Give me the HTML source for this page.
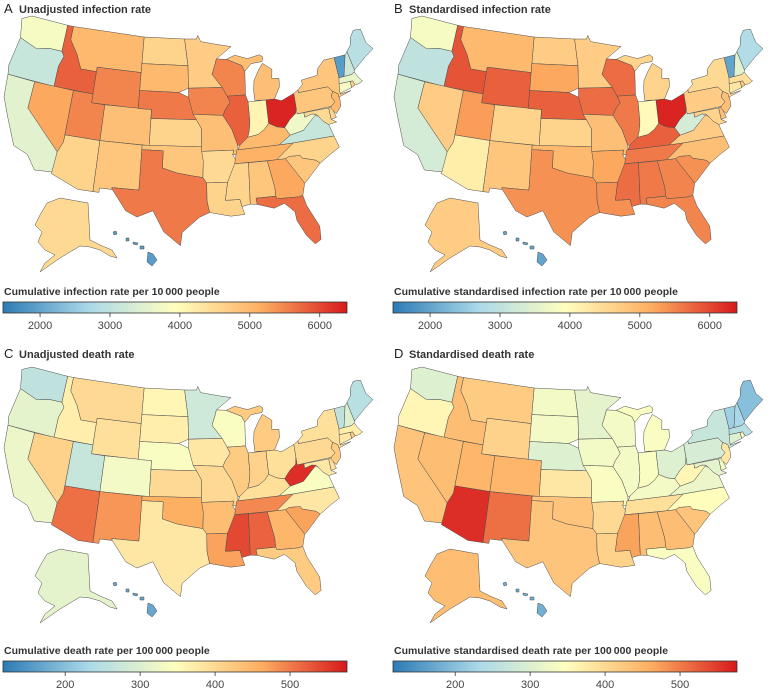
<!DOCTYPE html>
<html><head><meta charset="utf-8">
<style>
html,body{margin:0;padding:0;background:#fff;}
svg{display:block;font-family:"Liberation Sans",sans-serif;}
</style></head>
<body>
<svg id="fig" width="768" height="688" viewBox="0 0 768 688"></svg>
<script>
// ---- data (values per state, estimated from colours) ----
const states = ['WA','OR','CA','ID','NV','MT','WY','UT','AZ','CO','NM','ND','SD','NE','KS','OK','TX','MN','IA','MO','AR','LA','WI','IL','MI','IN','OH','KY','TN','MS','AL','GA','FL','SC','NC','VA','WV','MD','DE','PA','NJ','NY','CT','RI','MA','VT','NH','ME','AK','HI'];
const infectionA = [3800,3100,3500,5800,5200,5000,5500,5500,4600,4900,4800,4600,5000,5600,4600,4800,5600,4700,5500,4900,4500,4600,5500,5800,4900,4100,6300,5000,5100,4600,4800,5200,5700,4800,4600,3100,3700,4500,4600,4800,5000,4800,3800,4600,3600,1900,3200,2900,4500,1900];
const infectionB = [3800,3000,3300,5900,4700,5000,5800,5300,4200,4600,4800,4700,5200,5800,4600,5000,5400,4700,5700,4900,5200,5400,5700,5600,4600,4000,6300,5800,5600,5700,5600,5500,5500,5400,4900,4700,3300,4600,4900,4700,4900,4500,4300,4800,4400,2000,3500,2800,4700,2000];
const deathC = [260,310,320,370,410,400,390,270,510,330,480,360,370,340,400,460,380,280,380,400,440,470,340,420,420,410,390,390,490,540,520,450,420,470,380,340,560,380,390,400,420,390,380,420,370,260,300,250,310,170];
const deathD = [300,360,430,440,440,420,410,450,560,450,510,330,330,300,380,430,430,310,330,340,400,410,330,330,340,340,300,330,390,470,440,440,340,430,350,320,360,310,330,290,380,270,300,330,250,220,230,200,440,180];
const infTicks = [2000,3000,4000,5000,6000];
const deathTicks = [200,300,400,500];
const infDomain = [1470,6390];
const deathDomain = [117,576];

// ---- geometry (lon,lat) ----
const GEO = {
WA:[[[-124.7,48.4],[-123.2,49],[-117,49],[-117,46],[-119,46],[-121,45.6],[-124,46.3]]],
OR:[[[-124,46.3],[-121,45.6],[-119,46],[-117,46],[-116.5,45.5],[-117,44.3],[-117,42],[-124.2,42],[-124.5,43]]],
CA:[[[-124.2,42],[-120,42],[-120,39],[-114.6,35],[-114.6,33],[-114.7,32.7],[-117.1,32.5],[-118.5,34],[-120.6,34.6],[-122.5,37.5],[-123.8,39.5]]],
ID:[[[-117,49],[-116,49],[-116,47.5],[-114.5,46],[-113.5,44.5],[-111,44.5],[-111,42],[-117,42],[-117,44.3],[-116.5,45.5],[-117,46]]],
NV:[[[-120,42],[-114,42],[-114,36.2],[-114.6,35],[-120,39]]],
MT:[[[-116,49],[-104,49],[-104,45],[-111,45],[-111,44.5],[-113.5,44.5],[-114.5,46],[-116,47.5]]],
WY:[[[-111,45],[-104,45],[-104,41],[-111,41]]],
UT:[[[-114,42],[-111,42],[-111,41],[-109,41],[-109,37],[-114,37]]],
AZ:[[[-114,37],[-109,37],[-109,31.3],[-111,31.3],[-114.8,32.5],[-114.6,35],[-114,36.2]]],
CO:[[[-109,41],[-102,41],[-102,37],[-109,37]]],
NM:[[[-109,37],[-103,37],[-103,32],[-106.6,32],[-106.5,31.8],[-108.2,31.8],[-108.2,31.3],[-109,31.3]]],
ND:[[[-104,49],[-97.2,49],[-96.6,46],[-104,46]]],
SD:[[[-104,46],[-96.6,46],[-96.5,43.5],[-98,43],[-104,43]]],
NE:[[[-104,43],[-98,43],[-96.5,42.5],[-95.3,40],[-102,40],[-102,41],[-104,41]]],
KS:[[[-102,40],[-95.3,40],[-94.6,39],[-94.6,37],[-102,37]]],
OK:[[[-103,37],[-94.6,37],[-94.4,35.4],[-94.5,33.6],[-96,33.8],[-98,34.1],[-100,34.6],[-100,36.5],[-103,36.5]]],
TX:[[[-106.6,32],[-103,32],[-103,36.5],[-100,36.5],[-100,34.6],[-98,34.1],[-96,33.8],[-94.5,33.6],[-94,33],[-94,31],[-93.7,29.7],[-95,29.2],[-97.2,27.5],[-97.4,26],[-99.5,27.5],[-101,29.8],[-103,29],[-104.5,29.6],[-106.5,31.8]]],
MN:[[[-97.2,49],[-95.2,49],[-95,49.4],[-94.5,48.7],[-91,48.2],[-89.5,48],[-92,46.7],[-92.3,46],[-92.8,45],[-91.3,43.5],[-96.5,43.5],[-96.6,46]]],
IA:[[[-96.5,43.5],[-91.3,43.5],[-90.6,42.5],[-90.2,41.8],[-91,41],[-91.4,40.4],[-95.8,40.6],[-96.5,42.5]]],
MO:[[[-95.8,40.6],[-91.4,40.4],[-90.2,38.8],[-89.5,37],[-89.5,36],[-90.3,36],[-90.1,36.5],[-94.6,36.5],[-94.6,39],[-95.3,40]]],
AR:[[[-94.6,36.5],[-90.1,36.5],[-90.3,36],[-89.7,35],[-91.2,33],[-94,33],[-94.5,33.6],[-94.4,35.4]]],
LA:[[[-94,33],[-91.2,33],[-91.6,31],[-89.7,31],[-89.5,30.2],[-89.2,29.3],[-91,29.2],[-93.7,29.7],[-94,31]]],
WI:[[[-92.8,45],[-92.3,46],[-92,46.7],[-90.4,46.6],[-88,45.8],[-87.6,45.1],[-87.8,42.5],[-90.6,42.5],[-91.3,43.5]]],
IL:[[[-90.6,42.5],[-87.8,42.5],[-87.5,41.7],[-87.5,39.5],[-87.7,38.5],[-88,37.8],[-89.2,37],[-89.5,37],[-90.2,38.8],[-91.4,40.4],[-91,41],[-90.2,41.8]]],
MI:[[[-86.5,41.8],[-84.8,41.7],[-83.5,41.7],[-82.5,43],[-82.4,43.9],[-83.5,44],[-83.3,45],[-84.7,45.8],[-85.5,45],[-86.3,44],[-86.5,43]],[[-90.4,46.6],[-88,45.8],[-87.6,45.1],[-86.5,45.9],[-84.7,46],[-84.5,46.5],[-85,46.8],[-87,46.5],[-89,47]]],
IN:[[[-87.5,41.7],[-84.8,41.7],[-84.8,39.1],[-85.5,38.5],[-86.5,38],[-88,37.8],[-87.7,38.5],[-87.5,39.5]]],
OH:[[[-84.8,41.7],[-83.5,41.7],[-82.5,41.4],[-80.5,42],[-80.5,40.6],[-80.7,39.8],[-81.7,39.2],[-82.6,38.4],[-83.7,38.6],[-84.8,39.1]]],
KY:[[[-89.5,36.5],[-89.2,37],[-88,37.8],[-86.5,38],[-85.5,38.5],[-84.8,39.1],[-83.7,38.6],[-82.6,38.4],[-81.96,37.5],[-83.7,36.6]]],
TN:[[[-90.1,35],[-89.7,36.5],[-83.7,36.6],[-81.7,36.6],[-84.3,35]]],
MS:[[[-91.2,33],[-90.1,35],[-88.2,35],[-88.4,30.4],[-89.5,30.2],[-89.7,31],[-91.6,31]]],
AL:[[[-88.2,35],[-85.6,35],[-85,32],[-85,31],[-87.6,31],[-87.5,30.3],[-88.4,30.4]]],
GA:[[[-85.6,35],[-83.1,35],[-81,32],[-81.5,30.7],[-82,30.6],[-84.9,30.7],[-85,31],[-85,32]]],
FL:[[[-87.6,31],[-85,31],[-84.9,30.7],[-82,30.6],[-81.5,30.7],[-81.2,29.5],[-80,27],[-80.1,25.5],[-80.9,25.1],[-81.8,26.2],[-82.7,28],[-82.8,29],[-84,30.1],[-85.4,29.7],[-87.5,30.3]]],
SC:[[[-83.1,35],[-82.5,35.2],[-81,35.1],[-80.8,34.8],[-79,34.3],[-78.5,33.9],[-80.7,32.2],[-81,32]]],
NC:[[[-84.3,35],[-81.7,36.6],[-75.9,36.55],[-75.5,35.2],[-76.8,34.7],[-78.5,33.9],[-79,34.3],[-80.8,34.8],[-81,35.1],[-82.5,35.2],[-83.1,35]]],
VA:[[[-83.7,36.6],[-81.7,36.6],[-75.9,36.55],[-76.3,37.9],[-77,38.4],[-77.5,39],[-78.4,39.4],[-79,38.5],[-80,37.8],[-81.96,37.5]]],
WV:[[[-82.6,38.4],[-81.7,39.2],[-80.7,39.8],[-80.5,40.6],[-80.5,39.7],[-79.5,39.7],[-79.5,39.2],[-78.4,39.4],[-77.8,39.3],[-79,38.5],[-80,37.8],[-81.96,37.5]]],
MD:[[[-79.5,39.7],[-75.8,39.7],[-75.8,38.4],[-75.1,38],[-76.3,37.9],[-77,38.4],[-77.5,39],[-77.8,39.3],[-78.4,39.4],[-79.5,39.2]]],
DE:[[[-75.8,39.7],[-75.4,39.8],[-75,38.5],[-75.8,38.4]]],
PA:[[[-80.5,42],[-79.8,42.3],[-79.8,42],[-75.3,42],[-74.7,41.4],[-75.1,40.8],[-74.7,40.2],[-75.4,39.8],[-80.5,39.7]]],
NJ:[[[-75.1,40.8],[-74.7,41.4],[-74,41],[-73.9,40.5],[-74,39.6],[-74.9,38.9],[-75.5,39.6],[-75.4,39.8],[-74.7,40.2]]],
NY:[[[-79.8,42],[-79.8,42.3],[-79,42.8],[-79,43.3],[-76.5,43.5],[-76.2,44.2],[-75,45],[-73.3,45],[-73.3,42.7],[-73.5,41.2],[-73.7,40.9],[-72,41],[-74,40.6],[-74,41],[-74.7,41.4],[-75.3,42]]],
CT:[[[-73.5,42.05],[-71.8,42],[-71.8,41.3],[-73.7,41]]],
RI:[[[-71.8,42],[-71.4,42],[-71.2,41.5],[-71.8,41.3]]],
MA:[[[-73.3,42.7],[-71.3,42.7],[-70.8,42.9],[-70.6,42.5],[-70.1,41.8],[-69.95,41.7],[-70.6,41.5],[-71.2,41.5],[-71.4,42],[-73.5,42.05]]],
VT:[[[-73.3,45],[-71.5,45],[-72.5,42.7],[-73.3,42.7]]],
NH:[[[-71.5,45],[-71.1,45.3],[-70.7,43.1],[-70.8,42.9],[-71.3,42.7],[-72.5,42.7]]],
ME:[[[-71.1,45.3],[-70.3,45.9],[-70,46.7],[-69.2,47.4],[-68,47.3],[-67.8,45.7],[-67,44.8],[-68.5,44.2],[-70.7,43.1]]]
};
// inset shapes in panel pixel coordinates
const INSET = {
AK:[[[47,203],[60,198],[88,203],[90,240],[100,245],[112,250],[117,258],[110,256],[100,250],[90,247],[80,246],[70,252],[60,258],[50,265],[40,272],[45,263],[55,255],[45,250],[38,242],[42,232],[35,225],[40,215]]],
HI:[[[113,232],[116,231],[117,234],[114,235]],[[126,238],[129,238],[129,241],[126,241]],[[133,242],[138,243],[137,245],[133,244]],[[140,246],[144,246],[144,249],[140,249]],[[148,252],[153,254],[157,260],[152,266],[147,262]]]
};

// ---- projection ----
const R = Math.PI/180;
const p1=29.5*R,p2=45.5*R,p0=37.5*R,l0=-96*R;
const nA=(Math.sin(p1)+Math.sin(p2))/2, CA=Math.cos(p1)**2+2*nA*Math.sin(p1);
const rho0=Math.sqrt(CA-2*nA*Math.sin(p0))/nA;
function alb(lon,lat){const rho=Math.sqrt(CA-2*nA*Math.sin(lat*R))/nA;const th=nA*(lon*R-l0);return [rho*Math.sin(th),-(rho0-rho*Math.cos(th))];}
let minX=1e9,maxX=-1e9,minY=1e9,maxY=-1e9;
for(const k in GEO){for(const ring of GEO[k]){for(const pt of ring){const q=alb(pt[0],pt[1]);minX=Math.min(minX,q[0]);maxX=Math.max(maxX,q[0]);minY=Math.min(minY,q[1]);maxY=Math.max(maxY,q[1]);}}}
function proj(pt,box){const q=alb(pt[0],pt[1]);const s=(box.x1-box.x0)/(maxX-minX);return [box.x0+(q[0]-minX)*s, box.y0+(q[1]-minY)*s];}

// ---- colour ----
const stops=[[44,123,182],[171,217,233],[255,255,191],[253,174,97],[215,25,28]];
function colour(v,dom){let t=(v-dom[0])/(dom[1]-dom[0]);t=Math.max(0,Math.min(1,t));const s=t*4,i=Math.min(3,Math.floor(s)),f=s-i;const a=stops[i],b=stops[i+1];return 'rgb('+a.map((c,j)=>Math.round(c+(b[j]-c)*f)).join(',')+')';}

const NS='http://www.w3.org/2000/svg';
const svg=document.getElementById('fig');
function mk(tag,attrs,parent){const e=document.createElementNS(NS,tag);for(const k in attrs)e.setAttribute(k,attrs[k]);(parent||svg).appendChild(e);return e;}

function panel(ox,oy,mapDy,cbDy,letter,title,values,dom,ticks,cbLabel,key){
  const g=mk('g',{transform:'translate('+ox+','+oy+')'});
  
  
  const tl=mk('text',{x:4,y:13,'font-size':13,fill:'#222'},g);tl.textContent=letter;
  
  
  const tt=mk('text',{x:19,y:13,'font-size':11,'font-weight':'bold',fill:'#333'},g);tt.textContent=title;
  
  
  const box={x0:4,x1:373,y0:16+mapDy,y1:248+mapDy};
  states.forEach((s,i)=>{
    let rings;
    if(GEO[s]) rings=GEO[s].map(r=>r.map(pt=>proj(pt,box)));
    else rings=INSET[s].map(r=>r.map(pt=>[pt[0],pt[1]+mapDy]));
    const d=rings.map(r=>'M'+r.map(p=>p[0].toFixed(1)+','+p[1].toFixed(1)).join('L')+'Z').join('');
    const p=mk('path',{d:d,fill:colour(values[i],dom),stroke:'#4d4d4d','stroke-width':0.5,'stroke-linejoin':'round'},g);
    
    
  });
  // colour bar
  const cy=302+cbDy;
  const lbl=mk('text',{x:4,y:cy-7,'font-size':10.5,'font-weight':'bold',fill:'#333'},g);lbl.textContent=cbLabel;
  
  
  const gid='grad'+key;
  const defs=mk('defs',{},g);const lg=mk('linearGradient',{id:gid,x1:0,x2:1,y1:0,y2:0},defs);
  stops.forEach((c,i)=>mk('stop',{offset:(i/4),'stop-color':'rgb('+c.join(',')+')'},lg));
  const cb=mk('rect',{x:3,y:cy,width:344,height:11,fill:'url(#'+gid+')',stroke:'#333','stroke-width':0.8},g);
  
  
  const sx=v=>3+(v-dom[0])/(dom[1]-dom[0])*344;
  ticks.forEach(t=>{
    const x=sx(t);
    const tk=mk('line',{x1:x,x2:x,y1:cy+11,y2:cy+15,stroke:'#333','stroke-width':0.8},g);
    
    
    const tx=mk('text',{x:x,y:cy+27,'font-size':11,'text-anchor':'middle',fill:'#444'},g);tx.textContent=t;
    
    
  });
}
panel(0,0,0,0,'A','Unadjusted infection rate',infectionA,infDomain,infTicks,'Cumulative infection rate per 10\u2009000 people','a');
panel(390,0,0,0,'B','Standardised infection rate',infectionB,infDomain,infTicks,'Cumulative standardised infection rate per 10\u2009000 people','b');
panel(0,345,6,14,'C','Unadjusted death rate',deathC,deathDomain,deathTicks,'Cumulative death rate per 100\u2009000 people','c');
panel(390,345,6,14,'D','Standardised death rate',deathD,deathDomain,deathTicks,'Cumulative standardised death rate per 100\u2009000 people','d');
</script>
</body></html>
